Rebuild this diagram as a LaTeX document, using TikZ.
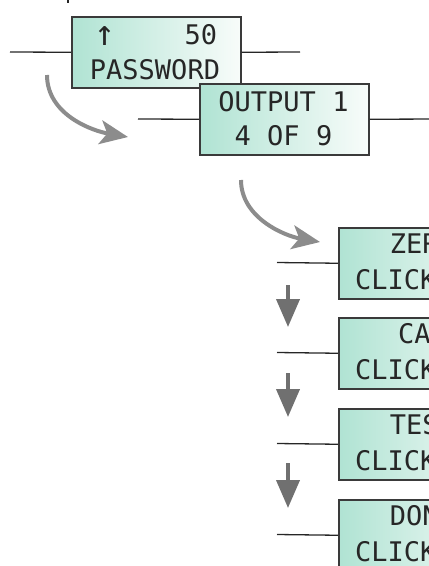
\documentclass[tikz,border=0pt]{standalone}
\usepackage{fontspec}
\usepackage{graphicx}
\newfontfamily\lcdfont{DejaVu Sans Mono}
\usetikzlibrary{arrows.meta}
\definecolor{mintL}{RGB}{176,227,211}
\definecolor{mintR}{RGB}{248,252,250}
\definecolor{frame}{RGB}{58,58,58}
\definecolor{ink}{RGB}{38,38,38}
\definecolor{flowA}{RGB}{140,140,140}
\definecolor{flowB}{RGB}{112,112,112}

\begin{document}
\begin{tikzpicture}[x=1pt,y=-1pt,
  screen/.style={draw=frame, line width=1.5pt, left color=mintL, right color=mintR,
    minimum width=169pt, minimum height=71pt, inner sep=0pt, anchor=north west},
  lcd/.style={text=ink, font=\lcdfont\fontsize{27}{32}\selectfont, inner sep=0pt, anchor=base},
  lcdleft/.style={lcd, anchor=base west},
  wire/.style={draw=black!85, line width=1.3pt},
  bendarrow/.style={draw=flowA, line width=4pt, -{Stealth[length=28pt,width=24pt,inset=7pt]}},
  droparrow/.style={draw=flowB, line width=4pt, -{Triangle[length=28pt,width=23pt]}}
]
\useasboundingbox (0,0) rectangle (429,566);
\clip (0,0) rectangle (429,566);

% stray mark at the top edge
\draw[line width=1.6pt, draw=ink] (68,-1) -- (68,3);

% password screen
\node[screen] (pw) at (71,16) {};
\node[lcd] (pwup) at (105,45.5) {\resizebox{21pt}{19pt}{↑}};
\node[lcd] (pwval) at (201,44) {50};
\node[lcd] (pwname) at (155,79) {PASSWORD};
\coordinate (pwL) at (10,52);
\coordinate (pwR) at (300,52);
\draw[wire] (pwL) -- (pw.west);
\draw[wire] (pw.east) -- (pwR);

% output selection screen
\node[screen] (out) at (199,83) {};
\node[lcd] (outA) at (283.5,111.5) {OUTPUT 1};
\node[lcd] (outB) at (283.5,145) {4 OF 9};
\coordinate (outL) at (138,119);
\coordinate (outR) at (440,119);
\draw[wire] (outL) -- (out.west);
\draw[wire] (out.east) -- (outR);

% menu screens
\foreach \name/\word/\top in {zero/ZERO/227, cal/CAL/317, test/TEST/408, done/DONE/499}{
  \node[screen] (\name) at (338,\top) {};
  \node[lcd] (\name A) at (422.5,\top+26.5) {\word};
  \node[lcdleft] (\name B) at (355,\top+62) {CLICK};
  \coordinate (\name L) at (277,\top+35.5);
  \draw[wire] (\name L) -- (\name.west);
}

% curved flow arrows
\coordinate (c1s) at (47,75);
\coordinate (c1e) at (128,137);
\draw[bendarrow] (c1s) .. controls (47,115) and (93,131) .. (c1e);
\coordinate (c2s) at (241,180);
\coordinate (c2e) at (320,242);
\draw[bendarrow] (c2s) .. controls (241,218) and (285,236) .. (c2e);

% downward steps
\coordinate (d1s) at (288,285); \coordinate (d1e) at (288,327);
\coordinate (d2s) at (288,373); \coordinate (d2e) at (288,417);
\coordinate (d3s) at (288,463); \coordinate (d3e) at (288,508);
\draw[droparrow] (d1s) -- (d1e);
\draw[droparrow] (d2s) -- (d2e);
\draw[droparrow] (d3s) -- (d3e);
\end{tikzpicture}
\end{document}
